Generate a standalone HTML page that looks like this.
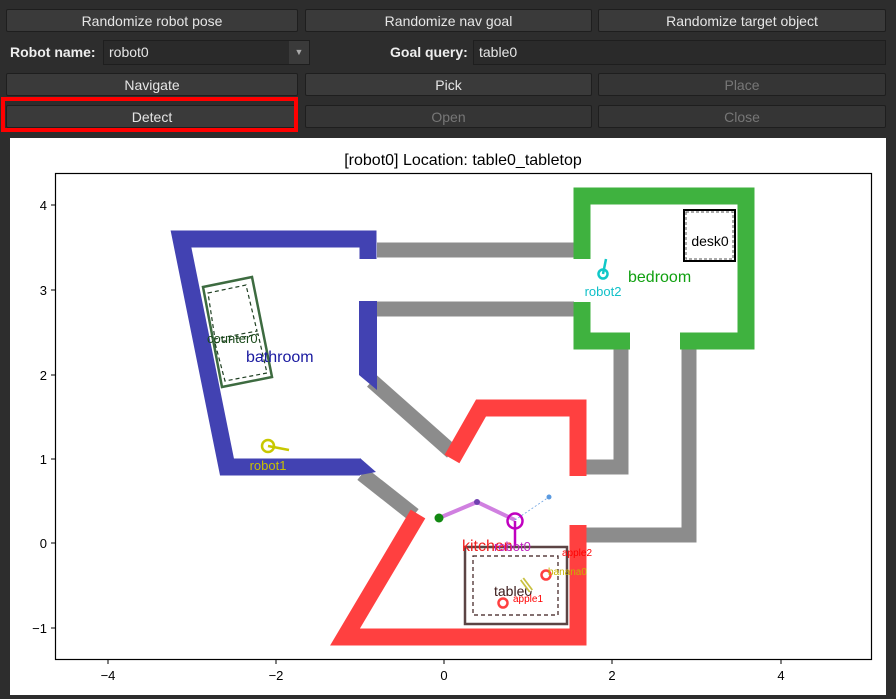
<!DOCTYPE html>
<html><head><style>
body{margin:0;width:896px;height:699px;background:#2d2d2d;font-family:"Liberation Sans","DejaVu Sans",sans-serif;overflow:hidden;position:relative}
.b{position:absolute;height:23px;background:#3a3a3a;border:1px solid #1e1e1e;border-radius:2px;color:#e6e6e6;font-size:14px;text-align:center;line-height:23px;box-sizing:border-box}
.d{color:#777;background:#353535}
.l{position:absolute;color:#eee;font-weight:bold;font-size:14px}
.f{position:absolute;height:25px;background:#2a2a2a;border:1px solid #1e1e1e;color:#e6e6e6;font-size:14px;line-height:23px;box-sizing:border-box;padding-left:5px}
</style></head><body>
<div class="b" style="left:6px;top:9px;width:292px">Randomize robot pose</div>
<div class="b" style="left:305px;top:9px;width:287px">Randomize nav goal</div>
<div class="b" style="left:598px;top:9px;width:288px">Randomize target object</div>
<div class="l" style="left:10px;top:44px">Robot name:</div>
<div class="f" style="left:103px;top:40px;width:207px">robot0<span style="position:absolute;right:0;top:0;width:20px;height:23px;background:#3a3a3a;color:#aaa;font-size:9px;text-align:center">▼</span></div>
<div class="l" style="left:390px;top:44px">Goal query:</div>
<div class="f" style="left:473px;top:40px;width:413px">table0</div>
<div class="b" style="left:6px;top:73px;width:292px">Navigate</div>
<div class="b" style="left:305px;top:73px;width:287px">Pick</div>
<div class="b d" style="left:598px;top:73px;width:288px">Place</div>
<div class="b" style="left:6px;top:105px;width:292px">Detect</div>
<div class="b d" style="left:305px;top:105px;width:287px">Open</div>
<div class="b d" style="left:598px;top:105px;width:288px">Close</div>
<div style="position:absolute;left:1px;top:97px;width:297px;height:35px;border:4px solid #f00;box-sizing:border-box"></div>
<svg style="position:absolute;left:0;top:0" width="896" height="699">
<rect x="10" y="138" width="876" height="557" fill="#fff"/>
<text x="463" y="165" font-size="16" text-anchor="middle" fill="#000">[robot0] Location: table0_tabletop</text>
<rect x="55.5" y="173.5" width="816" height="486" fill="none" stroke="#000" stroke-width="1.2"/>
<g font-size="13" fill="#000" text-anchor="middle">
<text x="108" y="680">−4</text><text x="276" y="680">−2</text><text x="444" y="680">0</text><text x="612" y="680">2</text><text x="781" y="680">4</text>
</g>
<g stroke="#000"><line x1="108" y1="660" x2="108" y2="664"/><line x1="276" y1="660" x2="276" y2="664"/><line x1="444" y1="660" x2="444" y2="664"/><line x1="612" y1="660" x2="612" y2="664"/><line x1="781" y1="660" x2="781" y2="664"/>
<line x1="51" y1="205" x2="55" y2="205"/><line x1="51" y1="290" x2="55" y2="290"/><line x1="51" y1="375" x2="55" y2="375"/><line x1="51" y1="459" x2="55" y2="459"/><line x1="51" y1="543" x2="55" y2="543"/><line x1="51" y1="628" x2="55" y2="628"/></g>
<g font-size="13" fill="#000" text-anchor="end">
<text x="47" y="210">4</text><text x="47" y="295">3</text><text x="47" y="380">2</text><text x="47" y="464">1</text><text x="47" y="548">0</text><text x="47" y="633">−1</text></g>
<!-- hallways -->
<g fill="none" stroke="#808080" stroke-width="15" stroke-opacity="0.9">
<line x1="377" y1="250" x2="574" y2="250"/><line x1="377" y1="309" x2="574" y2="309"/>
<line x1="372" y1="381" x2="452" y2="452"/><line x1="362" y1="474" x2="414" y2="515"/>
<polyline points="621,349 621,467 586,467"/><polyline points="689,349 689,535 586,535"/>
</g>
<!-- bathroom -->
<g fill="none" stroke="#4242b2" stroke-width="17" stroke-linejoin="miter">
<polyline points="368,259 368,239 181,239 227,467 360,467"/></g>
<polygon points="359,301 377,301 377,390 359,375" fill="#4242b2"/>
<polygon points="360,458 376,472 360,475" fill="#4242b2"/>
<!-- bedroom -->
<g fill="none" stroke="#3fb23f" stroke-width="17">
<polyline points="582,259 582,196 746,196 746,341 680,341"/>
<polyline points="582,302 582,341 630,341"/></g>
<!-- kitchen -->
<g fill="none" stroke="#ff4040" stroke-width="17" stroke-linejoin="miter">
<polyline points="452,459 481,408 578,408 578,476"/>
<polyline points="578,525 578,637 345,637 418,514"/></g>
<!-- desk -->
<rect x="684" y="210" width="51" height="51" fill="none" stroke="#000" stroke-width="2"/>
<rect x="686" y="212" width="47" height="47" fill="none" stroke="#555" stroke-dasharray="3,2"/>
<text x="710" y="246" font-size="14" text-anchor="middle">desk0</text>
<!-- counter -->
<polygon points="203,287 252,277 272,377 222,387" fill="none" stroke="#3d6b40" stroke-width="2.5"/>
<polygon points="208,293 246,285 257,331 215,339" fill="none" stroke="#1f3f22" stroke-dasharray="4,3" stroke-width="1.2"/>
<polygon points="215,343 258,334 267,373 225,381" fill="none" stroke="#1f3f22" stroke-dasharray="4,3" stroke-width="1.2"/>
<text x="207" y="343" font-size="13" fill="#1a4a1a">counter0</text>
<text x="246" y="362" font-size="16" fill="#1a1aa0">bathroom</text>
<!-- table -->
<rect x="465" y="547" width="102" height="77" fill="none" stroke="#5c4444" stroke-width="2.5"/>
<rect x="473" y="556" width="85" height="59" fill="none" stroke="#3a1a1a" stroke-dasharray="4,3" stroke-width="1.2"/>
<text x="494" y="596" font-size="14" fill="#3a1a1a">table0</text>
<circle cx="503" cy="603" r="4.5" fill="none" stroke="#ff4040" stroke-width="2.5"/>
<circle cx="546" cy="575" r="4.5" fill="none" stroke="#ff4040" stroke-width="2.5"/>
<line x1="522" y1="579" x2="531" y2="591" stroke="#c8c040" stroke-width="5"/>
<line x1="522" y1="579" x2="531" y2="591" stroke="#fff" stroke-width="1.5"/>
<text x="513" y="602" font-size="10" fill="#f00">apple1</text>
<text x="562" y="556" font-size="10" fill="#f00">apple2</text>
<text x="548" y="575" font-size="10" fill="#c8b400">banana0</text>
<!-- robot0 arm -->
<polyline points="439,518 477,502 515,520" fill="none" stroke="#d080e0" stroke-width="4"/>
<line x1="515" y1="520" x2="549" y2="497" stroke="#6aa0e0" stroke-width="0.8" stroke-dasharray="2,2"/>
<circle cx="549" cy="497" r="2.5" fill="#5a9ae0"/>
<circle cx="477" cy="502" r="3" fill="#7040b0"/>
<circle cx="439" cy="518" r="4.5" fill="#118811"/>
<circle cx="515" cy="521" r="7.5" fill="none" stroke="#c000c0" stroke-width="2.5"/>
<line x1="515" y1="521" x2="515" y2="546" stroke="#c000c0" stroke-width="2.5"/>
<text x="462" y="551" font-size="16" fill="#f02020">kitchen</text>
<text x="494" y="551" font-size="13" fill="#c020c0">robot0</text>
<!-- robot1 -->
<circle cx="268" cy="446" r="6" fill="none" stroke="#c8c800" stroke-width="2.5"/>
<line x1="268" y1="446" x2="289" y2="450" stroke="#c8c800" stroke-width="2.5"/>
<text x="268" y="470" font-size="13" fill="#c8c000" text-anchor="middle">robot1</text>
<!-- robot2 -->
<circle cx="603" cy="274" r="4.5" fill="none" stroke="#10c8c8" stroke-width="2.5"/>
<line x1="603" y1="274" x2="606" y2="259" stroke="#10c8c8" stroke-width="2.5"/>
<text x="603" y="296" font-size="13" fill="#10c0c8" text-anchor="middle">robot2</text>
<text x="628" y="282" font-size="16" fill="#10a010">bedroom</text>
</svg>
</body></html>
